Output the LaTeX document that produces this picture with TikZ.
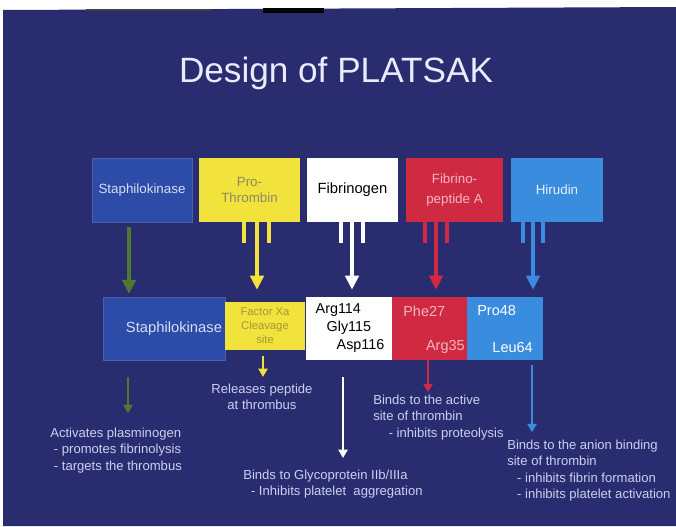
\documentclass[tikz,border=0pt]{standalone}
\usepackage{fontspec}
\setmainfont{Liberation Sans}
\usepackage{tikz}
\usetikzlibrary{arrows.meta, positioning, calc}
\definecolor{slidebg}{HTML}{2A2C70}
\definecolor{staphblue}{HTML}{2C4CA8}
\definecolor{protyellow}{HTML}{F2E23C}
\definecolor{fibred}{HTML}{CF2A42}
\definecolor{hirublue}{HTML}{3A8CDE}
\definecolor{kinasegreen}{HTML}{50782E}
\definecolor{notetext}{HTML}{C9D0F0}
\definecolor{lighttext}{HTML}{D6DEF6}
\definecolor{pinktext}{HTML}{F2B6C4}
\definecolor{olivetext}{HTML}{A8963A}
\definecolor{graytext}{HTML}{8C8766}

\begin{document}
\begin{tikzpicture}[x=0.025cm, y=-0.025cm,
    block/.style  = {rectangle, inner sep=0pt, minimum height=1.6cm, align=center,
                     font=\fontsize{9.5}{11.5}\selectfont},
    part/.style   = {rectangle, inner sep=0pt, minimum height=1.575cm, align=center},
    resid/.style  = {inner sep=0pt, font=\fontsize{10.3}{12}\selectfont},
    note/.style   = {inner sep=0pt, align=left, color=notetext,
                     font=\fontsize{9.3}{11.5}\selectfont},
    prong/.style  = {line width=2.8pt},
    down/.style   = {line width=2.8pt, -{Triangle[length=10pt, width=9.5pt]}},
    effect/.style = {line width=1.8pt, -{Triangle[length=6pt, width=6.5pt]}}
  ]

  % ── Slide ─────────────────────────────────────────────────────────────────
  \useasboundingbox (0,0) rectangle (676,526);
  \fill[white] (0,0) rectangle (676,526);
  \fill[slidebg] (3,10) -- (676,7) -- (676,526) -- (3,526) -- cycle;
  \fill[black!75] (86,9) rectangle (211,11);
  \fill[black] (263,8) rectangle (324,13);

  \node[font=\fontsize{25}{30}\selectfont, text=white!92!blue, anchor=base]
    (title) at (336,82) {Design of PLATSAK};

  % ── Components ────────────────────────────────────────────────────────────
  \node[block, fill=staphblue, draw=staphblue!88!white, line width=0.4pt,
        minimum width=2.5cm, text=lighttext] (staph1) at (142,190) {Staphilokinase};
  \node[block, fill=protyellow, minimum width=2.525cm, text=graytext]
    (prothr) at (249.5,190) {Pro-\\Thrombin};
  \node[block, fill=white, minimum width=2.275cm, font=\fontsize{10.5}{12}\selectfont]
    (fibrin) at (352.5,190) {Fibrinogen};
  \node[block, fill=fibred, minimum width=2.425cm, text=pinktext,
        font=\fontsize{9.5}{14}\selectfont] (fibpep) at (454.5,190) {Fibrino-\\peptide A};
  \node[block, fill=hirublue, minimum width=2.3cm, text=white!88!hirublue]
    (hirud) at (557,190) {Hirudin};

  % ── PLATSAK parts ─────────────────────────────────────────────────────────
  \node[part, fill=staphblue, draw=staphblue!88!white, line width=0.4pt,
        minimum width=3.05cm, text width=2.9cm, align=right, text=lighttext,
        font=\fontsize{10.5}{12}\selectfont] (staph2) at (164,328.5) {Staphilokinase};
  \node[part, fill=protyellow, minimum width=2cm, minimum height=1.2cm,
        text=olivetext, font=\fontsize{8}{10}\selectfont]
    (factorxa) at (265,326) {Factor Xa\\Cleavage\\site};
  \node[part, fill=white, minimum width=2.175cm, align=left,
        font=\fontsize{10.2}{12.8}\selectfont]
    (rgd) at (350,328.5) {Arg114\\\hspace*{7.8pt}Gly115\\\hspace*{14.9pt}Asp116};
  \node[part, fill=fibred, minimum width=1.875cm] (fpa) at (429.5,328.5) {};
  \node[part, fill=hirublue, minimum width=1.9cm] (hir2) at (505,328.5) {};

  \node[resid, text=pinktext, anchor=west] (phe)  at (403,311) {Phe27};
  \node[resid, text=pinktext, anchor=east] (arg)  at (465,347) {Arg35};
  \node[resid, text=white, anchor=west]    (pro)  at (477,311) {Pro48};
  \node[resid, text=white, anchor=east]    (leu)  at (533,348) {Leu64};

  % ── Notes ─────────────────────────────────────────────────────────────────
  \node[note, anchor=north west] (activ) at (50,428)
    {Activates plasminogen\\\ - promotes fibrinolysis\\\ - targets the thrombus};
  \node[note, anchor=north, align=center] (release) at (262,384)
    {Releases peptide\\at thrombus};
  \node[note, anchor=north west] (glyco) at (243,470)
    {Binds to Glycoprotein IIb/IIIa\\\hspace*{5.5pt}- Inhibits platelet\ \ aggregation};
  \node[note, anchor=north west] (active) at (373,395)
    {Binds to the active\\site of thrombin\\\hspace*{11pt}- inhibits proteolysis};
  \node[note, anchor=north west] (anion) at (507,440)
    {Binds to the anion binding\\site of thrombin\\\hspace*{7pt}- inhibits fibrin formation\\\hspace*{7pt}- inhibits platelet activation};

  % ── Fusion arrows ─────────────────────────────────────────────────────────
  % staphilokinase
  \draw[down, kinasegreen, shorten <=3.5pt, shorten >=2pt]
    (staph1.south -| 129,0) -- (staph2.north -| 129,0);
  % prothrombin
  \foreach \bx in {244,269}
    \draw[prong, protyellow] (prothr.south -| \bx,0) -- ++(0,21);
  \draw[down, protyellow, shorten >=8.5pt] (prothr.south -| 257,0) -- (factorxa.north -| 257,0);
  % fibrinogen
  \foreach \bx in {341,363}
    \draw[prong, white] (fibrin.south -| \bx,0) -- ++(0,21);
  \draw[down, white, shorten >=5pt] (fibrin.south -| 352,0) -- (rgd.north -| 352,0);
  % fibrinopeptide A
  \foreach \bx in {425,447}
    \draw[prong, fibred] (fibpep.south -| \bx,0) -- ++(0,21);
  \draw[down, fibred, shorten >=5pt] (fibpep.south -| 436,0) -- (fpa.north -| 436,0);
  % hirudin
  \foreach \bx in {523,543}
    \draw[prong, hirublue] (hirud.south -| \bx,0) -- ++(0,21);
  \draw[down, hirublue, shorten >=5pt] (hirud.south -| 533,0) -- (hir2.north -| 533,0);

  % ── Effects ───────────────────────────────────────────────────────────────
  \draw[effect, kinasegreen, shorten <=12pt, shorten >=10.5pt]
    (staph2.south -| 128,0) -- (activ.north -| 128,0);
  \draw[effect, protyellow, line width=2pt, shorten <=4pt, shorten >=5pt]
    (factorxa.south -| 263,0) -- (release.north -| 263,0);
  \draw[effect, white, shorten <=12pt, shorten >=8.5pt]
    (rgd.south -| 343,0) -- (glyco.north -| 343,0);
  \draw[effect, fibred, shorten >=2pt]
    (fpa.south -| 428,0) -- (active.north -| 428,0);
  \draw[effect, hirublue, line width=1.5pt, shorten <=3.5pt, shorten >=5.5pt]
    (hir2.south -| 532,0) -- (anion.north -| 532,0);

\end{tikzpicture}
\end{document}
